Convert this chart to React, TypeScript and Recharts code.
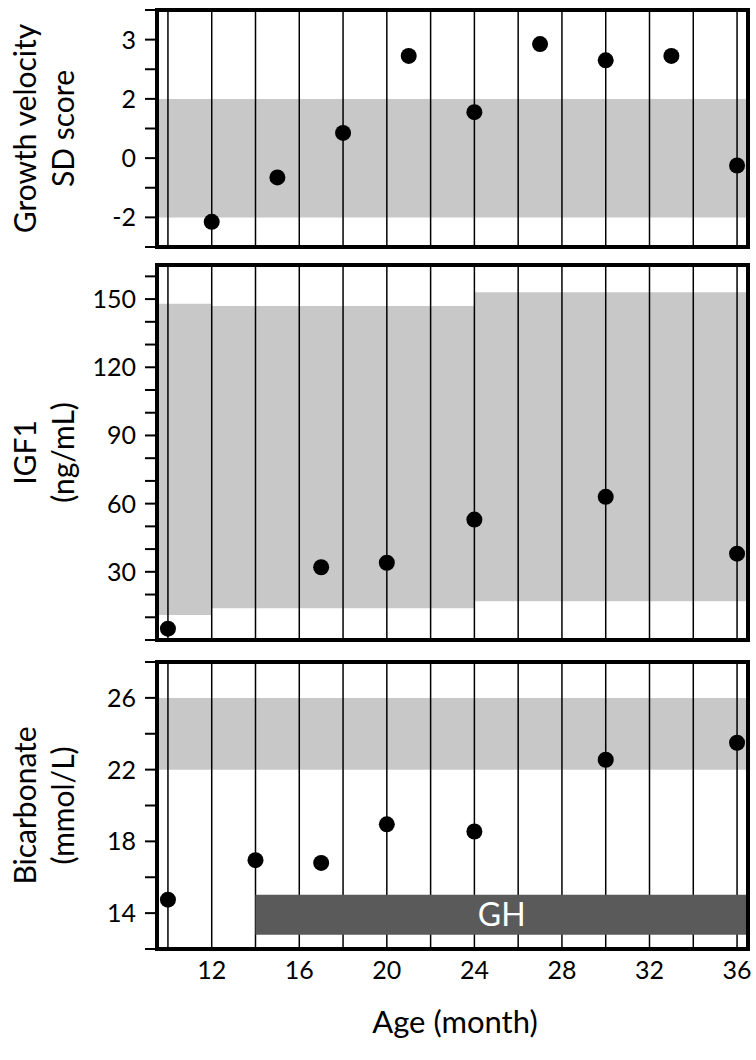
import React from 'react';
import { ComposedChart, Scatter, XAxis, YAxis, ReferenceArea, ReferenceLine } from 'recharts';

// shared x axis (age, months)
const xDomain = [9.5, 36.5];
const gridMonths = [10, 12, 14, 16, 18, 20, 22, 24, 26, 28, 30, 32, 34, 36];
const xTicks = [12, 16, 20, 24, 28, 32, 36];

// growth velocity SDS
const gvAge = [12, 15, 18, 21, 24, 27, 30, 33, 36];
const gvSds = [-2.15, -0.65, 0.85, 3.45, 1.55, 3.85, 3.3, 3.45, -0.25];
const gvTicks = [-3, -2, -1, 0, 1, 2, 3, 4, 5];
const gvTickLabels = ['', '-2', '', '0', '', '2', '', '3', ''];
const gvNormal = [-2, 2];

// IGF1
const igfAge = [10, 17, 20, 24, 30, 36];
const igfVal = [5, 32, 34, 53, 63, 38];
const igfTicks = [0, 10, 20, 30, 40, 50, 60, 70, 80, 90, 100, 110, 120, 130, 140, 150, 160];
const igfLabelled = [30, 60, 90, 120, 150];
const igfRefFrom = [9.5, 12, 24];
const igfRefTo = [12, 24, 36.5];
const igfRefLow = [11, 14, 17];
const igfRefHigh = [148, 147, 153];

// bicarbonate
const bicAge = [10, 14, 17, 20, 24, 30, 36];
const bicVal = [14.75, 16.95, 16.8, 18.95, 18.55, 22.55, 23.5];
const bicTicks = [12, 14, 16, 18, 20, 22, 24, 26, 28];
const bicLabelled = [14, 18, 22, 26];
const bicNormal = [22, 26];
const ghStart = 14;
const ghBand = [12.8, 15.03];

const SHADE = '#c8c8c8';
const FONT = 'Lato, "Open Sans", sans-serif';

const dot = (p: any) => <circle cx={p.cx} cy={p.cy} r={8} fill="#000" />;

function sideTitle(lines: string[]) {
  return (p: any) => {
    const vb = p.viewBox || {};
    const cy = (vb.y ?? 0) + (vb.height ?? 0) / 2;
    const xs = [24, 62];
    return (
      <g>
        {lines.map((t, i) => (
          <text key={i} transform={`translate(${xs[i]},${cy}) rotate(-90)`} textAnchor="middle"
            dominantBaseline="central" fontSize={30} fill="#000" fontFamily={FONT}>{t}</text>
        ))}
      </g>
    );
  };
}

const tickStyle = { fill: '#000', fontSize: 25, fontFamily: FONT };

function Panel(props: {
  top: number; height: number; mTop: number; mBottom: number;
  domain: number[]; ticks: number[]; fmt: (v: number, i: number) => string;
  title: string[]; data: { x: number; y: number }[];
  bands: { x1: number; x2: number; y1: number; y2: number }[];
  showX?: boolean; gh?: boolean;
}) {
  const { domain } = props;
  return (
    <div style={{ position: 'absolute', left: 0, top: props.top }}>
      <ComposedChart width={756} height={props.height}
        margin={{ top: props.mTop, bottom: props.mBottom, left: 0, right: 8 }}>
        <XAxis type="number" dataKey="x" domain={xDomain} ticks={xTicks} allowDataOverflow
          hide={!props.showX} axisLine={false} tickLine={false} tickSize={0} tickMargin={12}
          tick={tickStyle} height={60} interval={0}
          label={props.showX ? (p: any) => {
            const vb = p.viewBox || {};
            return <text x={455} y={(vb.y ?? 0) + 72} textAnchor="middle" dominantBaseline="central"
              fontSize={31} fill="#000" fontFamily={FONT}>Age (month)</text>;
          } : undefined} />
        <YAxis type="number" dataKey="y" domain={domain} ticks={props.ticks} allowDataOverflow
          width={157} interval={0} axisLine={false} tickSize={12} tickMargin={9}
          tickLine={{ stroke: '#000', strokeWidth: 2 }} tick={tickStyle}
          tickFormatter={props.fmt} label={sideTitle(props.title)} />
        {props.bands.map((b, i) => (
          <ReferenceArea key={'b' + i} x1={b.x1} x2={b.x2} y1={b.y1} y2={b.y2}
            fill={SHADE} fillOpacity={1} stroke="none" zIndex={100} ifOverflow="visible" />
        ))}
        {gridMonths.map(m => (
          <ReferenceLine key={'g' + m} x={m} stroke="#000" strokeWidth={1.5} zIndex={400} />
        ))}
        {props.gh && (
          <ReferenceArea x1={ghStart} x2={xDomain[1]} y1={ghBand[0]} y2={ghBand[1]}
            fill="#5a5a5a" fillOpacity={1} stroke="none" zIndex={450} ifOverflow="visible"
            label={{ value: 'GH', position: 'center', fill: '#fff', fontSize: 32, fontFamily: FONT }} />
        )}
        <ReferenceArea x1={xDomain[0]} x2={xDomain[1]} y1={domain[0]} y2={domain[1]}
          fill="none" stroke="#000" strokeWidth={4} zIndex={550} ifOverflow="visible" />
        <Scatter data={props.data} shape={dot} isAnimationActive={false} zIndex={600} />
      </ComposedChart>
    </div>
  );
}

export default function App() {
  const gvData = gvAge.map((x, i) => ({ x, y: gvSds[i] }));
  const igfData = igfAge.map((x, i) => ({ x, y: igfVal[i] }));
  const bicData = bicAge.map((x, i) => ({ x, y: bicVal[i] }));
  const igfBands = igfRefFrom.map((x1, i) => ({ x1, x2: igfRefTo[i], y1: igfRefLow[i], y2: igfRefHigh[i] }));

  return (
    <div style={{ position: 'absolute', left: 0, top: 0, width: 756, height: 1060, background: '#fff', fontFamily: FONT }}>
      <Panel top={0} height={260} mTop={10} mBottom={13} domain={[-3, 5]} ticks={gvTicks}
        fmt={(v) => gvTickLabels[gvTicks.indexOf(v)] ?? ''}
        title={['Growth velocity', 'SD score']} data={gvData}
        bands={[{ x1: xDomain[0], x2: xDomain[1], y1: gvNormal[0], y2: gvNormal[1] }]} />
      <Panel top={255} height={395} mTop={10} mBottom={10} domain={[0, 165]} ticks={igfTicks}
        fmt={(v) => (igfLabelled.includes(v) ? String(v) : '')}
        title={['IGF1', '(ng/mL)']} data={igfData} bands={igfBands} />
      <Panel top={650} height={410} mTop={12} mBottom={51} domain={[12, 28]} ticks={bicTicks}
        fmt={(v) => (bicLabelled.includes(v) ? String(v) : '')}
        title={['Bicarbonate', '(mmol/L)']} data={bicData}
        bands={[{ x1: xDomain[0], x2: xDomain[1], y1: bicNormal[0], y2: bicNormal[1] }]}
        showX gh />
    </div>
  );
}
